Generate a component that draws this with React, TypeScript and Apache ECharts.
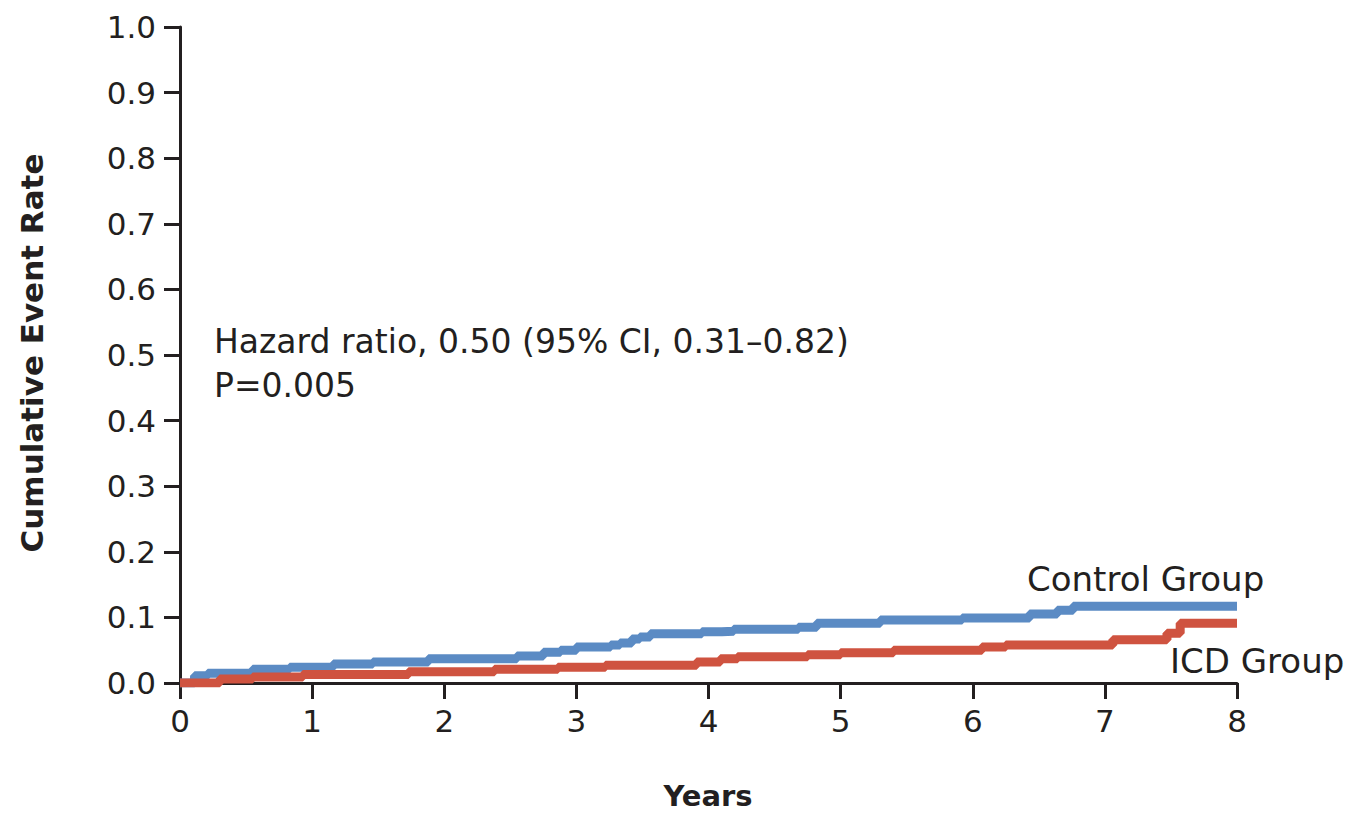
import React, { useEffect, useRef } from "react";
import * as echarts from "echarts";

// Control group (blue) Kaplan-Meier steps: [years, cumulative event rate]
const controlYears = [0, 0.11, 0.21, 0.55, 0.83, 1.16, 1.46, 1.88, 2.55, 2.75, 2.88, 3.0, 3.26, 3.33, 3.42, 3.48, 3.56, 3.95, 4.1, 4.19, 4.68, 4.82, 5.3, 5.92, 6.43, 6.64, 6.76, 8.0];
const controlRates = [0, 0.011, 0.015, 0.021, 0.024, 0.029, 0.032, 0.037, 0.041, 0.047, 0.05, 0.055, 0.058, 0.061, 0.067, 0.07, 0.075, 0.078, 0.079, 0.082, 0.085, 0.091, 0.096, 0.099, 0.105, 0.111, 0.117, 0.117];

// ICD group (red)
const icdYears = [0, 0.3, 0.55, 0.93, 1.73, 2.38, 2.86, 3.22, 3.91, 4.09, 4.22, 4.75, 5.0, 5.4, 6.07, 6.25, 7.06, 7.47, 7.57, 8.0];
const icdRates = [0, 0.006, 0.009, 0.013, 0.017, 0.021, 0.024, 0.027, 0.032, 0.037, 0.04, 0.043, 0.046, 0.05, 0.055, 0.058, 0.066, 0.076, 0.091, 0.091];

const yTicks = [0, 0.1, 0.2, 0.3, 0.4, 0.5, 0.6, 0.7, 0.8, 0.9, 1.0];
const xTicks = [0, 1, 2, 3, 4, 5, 6, 7, 8];

const xTitle = "Years";
const yTitle = "Cumulative Event Rate";
const hazardText = "Hazard ratio, 0.50 (95% CI, 0.31–0.82)";
const pText = "P=0.005";
const controlLabel = "Control Group";
const icdLabel = "ICD Group";

const FONT = "'DejaVu Sans', sans-serif";
const INK = "#231f20";
const BLUE = "#5b8bc4";
const RED = "#cf5340";

export default function App() {
  const ref = useRef<HTMLDivElement>(null);
  useEffect(() => {
    if (!ref.current) return;
    const chart = echarts.init(ref.current, null, { renderer: "svg" });
    const axisLine = { show: true, lineStyle: { color: INK, width: 3 } };
    const axisTick = { show: true, length: 16, inside: false, lineStyle: { color: INK, width: 3 } };
    chart.setOption({
      animation: false,
      grid: {
        left: 180,
        right: 120,
        top: 27,
        bottom: 132,
        containLabel: false,
        outerBoundsMode: "none",
      },
      xAxis: {
        type: "value",
        min: xTicks[0],
        max: xTicks[xTicks.length - 1],
        interval: 1,
        axisLine,
        axisTick,
        splitLine: { show: false },
        axisLabel: { color: INK, fontFamily: FONT, fontSize: 31, margin: 22 },
      },
      yAxis: {
        type: "value",
        min: yTicks[0],
        max: yTicks[yTicks.length - 1],
        interval: 0.1,
        axisLine,
        axisTick,
        splitLine: { show: false },
        axisLabel: {
          color: INK,
          fontFamily: FONT,
          fontSize: 31,
          margin: 24,
          formatter: (v: number) => v.toFixed(1),
        },
      },
      series: [
        {
          name: controlLabel,
          type: "line",
          step: "end",
          showSymbol: false,
          symbol: "none",
          lineStyle: { color: BLUE, width: 9 },
          data: controlYears.map((x, i) => [x, controlRates[i]]),
          z: 2,
        },
        {
          name: icdLabel,
          type: "line",
          step: "end",
          showSymbol: false,
          symbol: "none",
          lineStyle: { color: RED, width: 9 },
          data: icdYears.map((x, i) => [x, icdRates[i]]),
          z: 3,
        },
      ],
      graphic: [
        {
          type: "text",
          x: 32,
          y: 353,
          rotation: Math.PI / 2,
          style: {
            text: yTitle,
            fill: INK,
            font: `bold 31px ${FONT}`,
            align: "center",
            verticalAlign: "middle",
          },
        },
        {
          type: "text",
          x: 708,
          y: 796,
          style: {
            text: xTitle,
            fill: INK,
            font: `bold 29px ${FONT}`,
            align: "center",
            verticalAlign: "middle",
          },
        },
        {
          type: "text",
          left: 214,
          top: 325,
          style: { text: hazardText, fill: INK, font: `33px ${FONT}` },
        },
        {
          type: "text",
          left: 214,
          top: 369,
          style: { text: pText, fill: INK, font: `33px ${FONT}` },
        },
        {
          type: "text",
          left: 1027,
          top: 562,
          style: { text: controlLabel, fill: INK, font: `34px ${FONT}` },
        },
        {
          type: "text",
          left: 1170,
          top: 644,
          style: { text: icdLabel, fill: INK, font: `34px ${FONT}` },
        },
      ],
    });
    return () => chart.dispose();
  }, []);
  return (
    <div
      ref={ref}
      style={{ position: "fixed", left: 0, top: 0, width: 1357, height: 815, background: "#ffffff" }}
    />
  );
}
